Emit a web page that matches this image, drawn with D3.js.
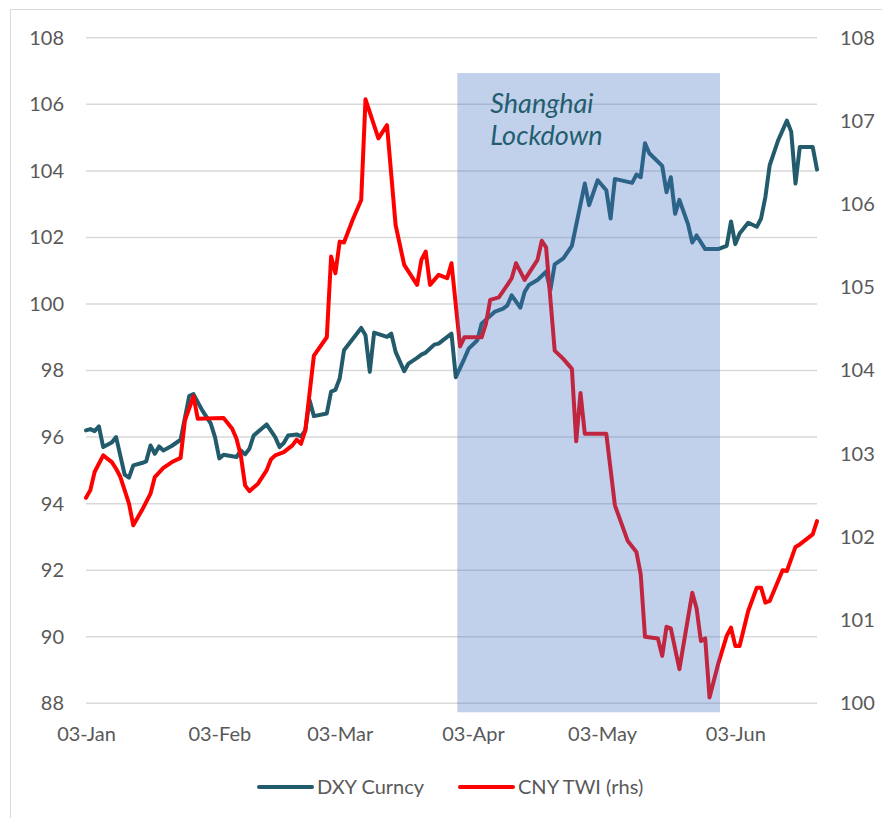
<!DOCTYPE html>
<html>
<head>
<meta charset="utf-8">
<script src="https://cdn.jsdelivr.net/npm/d3@7"></script>
<style>
  html, body { margin: 0; padding: 0; background: #fff; }
  svg { display: block; }
  text { font-family: Lato, "Open Sans", sans-serif; }
</style>
</head>
<body>
<svg id="chart" width="882" height="818"></svg>
<script>
// ---------- DATA ----------
const dxyDates = ["2022-01-03","2022-01-04","2022-01-05","2022-01-06","2022-01-07","2022-01-09","2022-01-10","2022-01-12","2022-01-13","2022-01-14","2022-01-16","2022-01-17","2022-01-18","2022-01-19","2022-01-20","2022-01-21","2022-01-23","2022-01-25","2022-01-27","2022-01-28","2022-01-30","2022-02-01","2022-02-02","2022-02-03","2022-02-04","2022-02-07","2022-02-08","2022-02-09","2022-02-10","2022-02-11","2022-02-14","2022-02-16","2022-02-17","2022-02-18","2022-02-19","2022-02-21","2022-02-22","2022-02-23","2022-02-24","2022-02-25","2022-02-28","2022-03-01","2022-03-02","2022-03-03","2022-03-04","2022-03-08","2022-03-09","2022-03-10","2022-03-11","2022-03-14","2022-03-15","2022-03-16","2022-03-18","2022-03-19","2022-03-21","2022-03-22","2022-03-23","2022-03-25","2022-03-26","2022-03-29","2022-03-30","2022-04-01","2022-04-02","2022-04-04","2022-04-05","2022-04-08","2022-04-10","2022-04-11","2022-04-12","2022-04-14","2022-04-15","2022-04-16","2022-04-18","2022-04-20","2022-04-21","2022-04-22","2022-04-24","2022-04-26","2022-04-29","2022-04-30","2022-05-02","2022-05-04","2022-05-05","2022-05-06","2022-05-10","2022-05-11","2022-05-12","2022-05-13","2022-05-14","2022-05-17","2022-05-18","2022-05-19","2022-05-20","2022-05-21","2022-05-23","2022-05-24","2022-05-25","2022-05-27","2022-05-30","2022-06-01","2022-06-02","2022-06-03","2022-06-04","2022-06-06","2022-06-08","2022-06-09","2022-06-10","2022-06-11","2022-06-13","2022-06-15","2022-06-16","2022-06-17","2022-06-18","2022-06-21","2022-06-22"];
const dxyValues = [96.20,96.24,96.18,96.32,95.70,95.84,96.00,94.87,94.78,95.15,95.22,95.27,95.75,95.50,95.72,95.60,95.74,95.92,97.23,97.29,96.81,96.41,96.00,95.36,95.47,95.40,95.60,95.48,95.65,96.05,96.38,96.00,95.70,95.82,96.05,96.08,96.02,96.20,97.11,96.63,96.71,97.37,97.42,97.76,98.61,99.28,99.06,97.96,99.14,99.01,99.11,98.56,97.98,98.21,98.38,98.48,98.54,98.78,98.81,99.11,97.80,98.36,98.66,98.91,99.41,99.76,99.86,99.96,100.26,99.89,100.36,100.57,100.72,100.97,100.42,101.19,101.37,101.75,103.62,102.97,103.72,103.42,102.57,103.76,103.64,103.89,103.81,104.83,104.53,104.15,103.36,103.81,102.71,103.13,102.40,101.85,102.06,101.65,101.65,101.75,102.48,101.80,102.12,102.44,102.32,102.57,103.22,104.17,104.93,105.51,105.18,103.62,104.72,104.72,104.04];

const cnyDates = ["2022-01-03","2022-01-04","2022-01-05","2022-01-07","2022-01-09","2022-01-10","2022-01-11","2022-01-12","2022-01-13","2022-01-14","2022-01-16","2022-01-18","2022-01-19","2022-01-21","2022-01-23","2022-01-25","2022-01-26","2022-01-28","2022-01-29","2022-02-04","2022-02-06","2022-02-07","2022-02-08","2022-02-09","2022-02-10","2022-02-12","2022-02-14","2022-02-15","2022-02-16","2022-02-18","2022-02-20","2022-02-21","2022-02-22","2022-02-23","2022-02-25","2022-02-28","2022-03-01","2022-03-02","2022-03-03","2022-03-04","2022-03-06","2022-03-08","2022-03-09","2022-03-12","2022-03-14","2022-03-16","2022-03-18","2022-03-21","2022-03-22","2022-03-23","2022-03-24","2022-03-26","2022-03-28","2022-03-29","2022-03-31","2022-04-01","2022-04-05","2022-04-06","2022-04-07","2022-04-09","2022-04-11","2022-04-12","2022-04-13","2022-04-15","2022-04-18","2022-04-19","2022-04-20","2022-04-22","2022-04-24","2022-04-26","2022-04-27","2022-04-28","2022-04-29","2022-05-04","2022-05-06","2022-05-09","2022-05-11","2022-05-12","2022-05-13","2022-05-16","2022-05-17","2022-05-18","2022-05-19","2022-05-21","2022-05-24","2022-05-25","2022-05-26","2022-05-27","2022-05-28","2022-05-30","2022-06-01","2022-06-02","2022-06-03","2022-06-04","2022-06-06","2022-06-08","2022-06-09","2022-06-10","2022-06-11","2022-06-14","2022-06-15","2022-06-17","2022-06-18","2022-06-21","2022-06-22"];
const cnyValues = [102.47,102.56,102.78,102.98,102.90,102.82,102.72,102.56,102.40,102.14,102.32,102.52,102.72,102.83,102.90,102.95,103.40,103.69,103.42,103.43,103.30,103.18,102.98,102.62,102.55,102.64,102.80,102.93,102.98,103.02,103.10,103.17,103.12,103.28,104.18,104.40,105.37,105.17,105.55,105.54,105.81,106.05,107.26,106.79,106.95,105.75,105.27,105.03,105.33,105.43,105.03,105.15,105.11,105.29,104.29,104.40,104.40,104.56,104.85,104.88,105.03,105.11,105.29,105.09,105.33,105.56,105.48,104.24,104.14,104.02,103.15,103.73,103.24,103.24,102.38,101.95,101.82,101.55,100.80,100.78,100.57,100.92,100.90,100.41,101.33,101.14,100.75,100.78,100.07,100.47,100.81,100.91,100.69,100.69,101.11,101.39,101.39,101.21,101.23,101.60,101.59,101.88,101.91,102.03,102.19];

const xTickDates = ["2022-01-03","2022-02-03","2022-03-03","2022-04-03","2022-05-03","2022-06-03"];
const leftTicks = [88,90,92,94,96,98,100,102,104,106,108];
const rightTicks = [100,101,102,103,104,105,106,107,108];
const xDomain = ["2022-01-03","2022-06-22"];
const lockdownDates = ["2022-03-30T08:24:00Z","2022-05-30T10:30:00Z"];
const lockdownRange = [87.73, 106.94]; // left-axis units
const annotationLines = ["Shanghai","Lockdown"];
const seriesNames = ["DXY Curncy","CNY TWI (rhs)"];

// ---------- CHART ----------
const parse = d3.utcParse("%Y-%m-%d");
const svg = d3.select("#chart");
const DXY_COLOR = "#225B6B", CNY_COLOR = "#FF0000", TXT = "#595959";

const x = d3.scaleUtc().domain(xDomain.map(parse)).range([86, 817]);
const yL = d3.scaleLinear().domain([88,108]).range([703.3, 37.8]);
const yR = d3.scaleLinear().domain([100,108]).range([703.3, 37.8]);

// outer chart border
svg.append("rect").attr("x",10.5).attr("y",9.5).attr("width",900).attr("height",900)
  .attr("fill","none").attr("stroke","#d9d9d9").attr("stroke-width",1);

// gridlines
svg.append("g").selectAll("line").data(leftTicks).join("line")
  .attr("x1", x.range()[0]).attr("x2", x.range()[1])
  .attr("y1", d => yL(d)).attr("y2", d => yL(d))
  .attr("stroke", "#d9d9d9").attr("stroke-width", 1.5);

const styleTicks = g => g.selectAll("text").attr("fill",TXT)
  .style("font-size","20px").style("font-family","Lato, sans-serif");

// left axis
const gL = svg.append("g").attr("transform","translate(64,0)")
  .call(d3.axisLeft(yL).tickValues(leftTicks).tickSize(0).tickPadding(0).tickFormat(d3.format("d")));
gL.select(".domain").remove();
styleTicks(gL);

// right axis
const gR = svg.append("g").attr("transform","translate(840,0)")
  .call(d3.axisRight(yR).tickValues(rightTicks).tickSize(0).tickPadding(0).tickFormat(d3.format("d")));
gR.select(".domain").remove();
styleTicks(gR);

// x axis
const gX = svg.append("g").attr("transform","translate(0,721)")
  .call(d3.axisBottom(x).tickValues(xTickDates.map(parse)).tickSize(0).tickPadding(6)
    .tickFormat(d3.utcFormat("%d-%b")));
gX.select(".domain").remove();
styleTicks(gX);

// lines
const dxy = dxyDates.map((d,i) => ({date: parse(d), v: dxyValues[i]}));
const cny = cnyDates.map((d,i) => ({date: parse(d), v: cnyValues[i]}));

svg.append("path").datum(dxy)
  .attr("fill","none").attr("stroke",DXY_COLOR).attr("stroke-width",4)
  .attr("stroke-linejoin","round").attr("stroke-linecap","round")
  .attr("d", d3.line().x(d => x(d.date)).y(d => yL(d.v)));

svg.append("path").datum(cny)
  .attr("fill","none").attr("stroke",CNY_COLOR).attr("stroke-width",4)
  .attr("stroke-linejoin","round").attr("stroke-linecap","round")
  .attr("d", d3.line().x(d => x(d.date)).y(d => yR(d.v)));

// lockdown shade (drawn over lines, semi-transparent)
const lx0 = x(d3.isoParse(lockdownDates[0])), lx1 = x(d3.isoParse(lockdownDates[1]));
svg.append("rect")
  .attr("x", lx0).attr("width", lx1 - lx0)
  .attr("y", yL(lockdownRange[1])).attr("height", yL(lockdownRange[0]) - yL(lockdownRange[1]))
  .attr("fill","#4472C4").attr("fill-opacity",0.33);

// annotation
const ann = svg.append("text").attr("fill","#245E6E")
  .style("font-size","27px").style("font-style","italic").style("font-family","Lato, sans-serif");
annotationLines.forEach((t,i) => {
  ann.append("tspan").attr("x", lx0 + 33).attr("y", yL(lockdownRange[1]) + 40 + i*32).text(t);
});

// legend
const legend = svg.append("g");
const lgX = [259, 460];
const lgColors = [DXY_COLOR, CNY_COLOR];
seriesNames.forEach((name,i) => {
  legend.append("line").attr("x1", lgX[i]).attr("x2", lgX[i] + 53).attr("y1", 787).attr("y2", 787)
    .attr("stroke", lgColors[i]).attr("stroke-width", 4).attr("stroke-linecap","round");
  legend.append("text").attr("x", lgX[i] + 58).attr("y", 794).attr("fill", TXT)
    .style("font-size","20px").style("font-family","Lato, sans-serif").text(name);
});
</script>
</body>
</html>
